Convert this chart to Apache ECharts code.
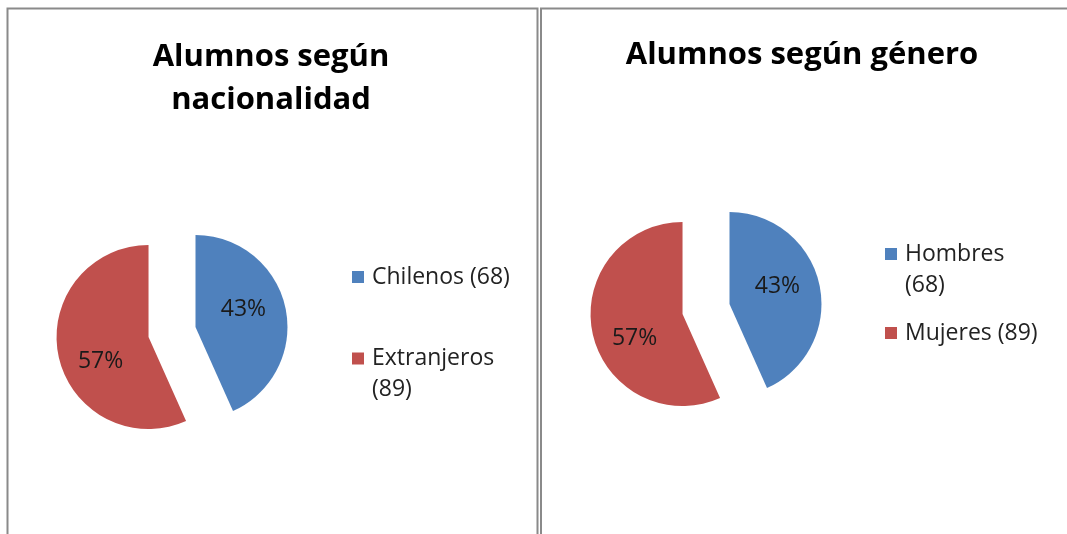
<!DOCTYPE html>
<html>
<head>
<meta charset="utf-8">
<script src="https://cdn.jsdelivr.net/npm/echarts@6/dist/echarts.min.js"></script>
<style>
  html, body { margin: 0; padding: 0; background: #fff; }
  #chart { width: 1067px; height: 534px; }
</style>
</head>
<body>
<div id="chart"></div>
<script>
// datos de los dos gráficos
var natNames = ['Chilenos', 'Extranjeros'];
var natValues = [68, 89];
var genNames = ['Hombres', 'Mujeres'];
var genValues = [68, 89];
var sliceColors = ['#4F81BD', '#C0504D'];
// leyendas que se cortan en dos líneas
var wrapNames = ['Extranjeros', 'Hombres'];

var font = 'Open Sans';
var chart = echarts.init(document.getElementById('chart'));

function valueOf(name) {
    var i = natNames.indexOf(name);
    if (i >= 0) return natValues[i];
    return genValues[genNames.indexOf(name)];
}

function legendItem(name, left, top) {
    var wrap = wrapNames.indexOf(name) >= 0;
    return {
        data: [name],
        left: left,
        top: top,
        padding: 0,
        orient: 'vertical',
        icon: 'rect',
        itemWidth: 12,
        itemHeight: 12,
        selectedMode: false,
        formatter: function (n) {
            // línea vacía arriba para que el cuadrado quede en la primera línea
            if (wrap) return '\n' + n + '\n(' + valueOf(n) + ')';
            return n + ' (' + valueOf(n) + ')';
        },
        textStyle: {
            fontFamily: font,
            fontSize: 23,
            color: '#222',
            lineHeight: 31,
            padding: [0, 0, 0, 3]
        }
    };
}

function pieSeries(names, values, center) {
    return {
        type: 'pie',
        center: center,
        radius: 92,
        startAngle: 90,
        clockwise: true,
        selectedMode: 'multiple',
        selectedOffset: 24,
        percentPrecision: 0,
        animation: false,
        data: names.map(function (n, i) {
            return { name: n, value: values[i], selected: true };
        }),
        label: {
            position: 'inside',
            // líneas vacías: la etiqueta azul sube un poco y la roja baja, como en el original
            formatter: function (p) {
                var t = p.percent + '%';
                return p.dataIndex === 0 ? t + '\n' : '\n\n' + t;
            },
            fontFamily: font,
            fontSize: 23,
            lineHeight: 14,
            color: '#1a1a1a'
        },
        labelLine: { show: false },
        emphasis: { scale: false },
        select: { itemStyle: {} }
    };
}

var option = {
    backgroundColor: '#fff',
    color: sliceColors,
    animation: false,
    title: [{
        text: 'Alumnos según\nnacionalidad',
        left: 271,
        top: 36,
        padding: 0,
        textAlign: 'center',
        textVerticalAlign: 'top',
        textStyle: { fontFamily: font, fontSize: 31, fontWeight: 'bold', color: '#000', lineHeight: 43 }
    }, {
        text: 'Alumnos según género',
        left: 802,
        top: 34,
        padding: 0,
        textAlign: 'center',
        textVerticalAlign: 'top',
        textStyle: { fontFamily: font, fontSize: 31, fontWeight: 'bold', color: '#000', lineHeight: 43 }
    }],
    legend: [
        legendItem('Chilenos', 352, 261.5),
        legendItem('Extranjeros', 352, 312),
        legendItem('Hombres', 885, 207.5),
        legendItem('Mujeres', 885, 317.5)
    ],
    // marcos de los dos paneles
    graphic: [{
        type: 'rect',
        shape: { x: 7.5, y: 8.5, width: 530, height: 600 },
        style: { fill: 'none', stroke: '#8a8a8a', lineWidth: 2 }
    }, {
        type: 'rect',
        shape: { x: 541, y: 8.5, width: 600, height: 600 },
        style: { fill: 'none', stroke: '#8a8a8a', lineWidth: 2 }
    }],
    series: [
        pieSeries(natNames, natValues, [172, 332]),
        pieSeries(genNames, genValues, [706, 309])
    ]
};

chart.setOption(option);
</script>
</body>
</html>
